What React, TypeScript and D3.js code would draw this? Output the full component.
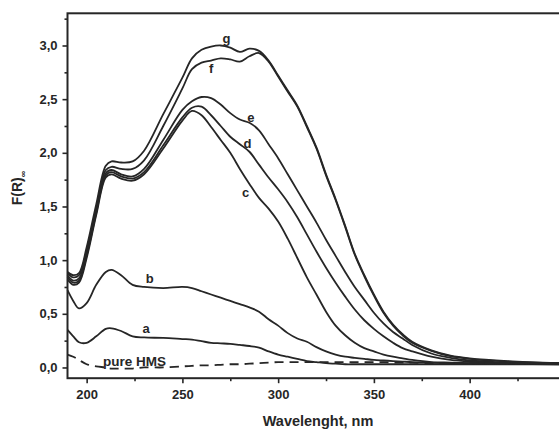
import * as d3 from "d3";
import { useEffect, useRef } from "react";

// wavelength grid (nm) shared by all spectra
const wavelengths = [190, 193, 196, 200, 205, 210, 213, 218, 224, 230, 240, 250, 255, 260, 265, 270, 275, 280, 285, 290, 295, 300, 305, 310, 315, 320, 325, 330, 335, 340, 345, 350, 355, 360, 365, 370, 380, 390, 400, 420, 450];

const seriesG = [0.89, 0.86, 0.88, 1.12, 1.52, 1.88, 1.92, 1.91, 1.92, 2.02, 2.36, 2.7, 2.88, 2.96, 2.99, 3.0, 2.98, 2.94, 2.97, 2.95, 2.86, 2.72, 2.58, 2.44, 2.25, 2.05, 1.8, 1.57, 1.32, 1.06, 0.86, 0.68, 0.52, 0.4, 0.31, 0.24, 0.16, 0.11, 0.085, 0.06, 0.04];
const seriesF = [0.88, 0.84, 0.86, 1.09, 1.48, 1.84, 1.87, 1.85, 1.85, 1.93, 2.25, 2.6, 2.78, 2.84, 2.86, 2.88, 2.87, 2.85, 2.9, 2.93, 2.85, 2.71, 2.57, 2.43, 2.24, 2.04, 1.79, 1.56, 1.31, 1.05, 0.85, 0.67, 0.51, 0.39, 0.3, 0.23, 0.155, 0.105, 0.08, 0.055, 0.038];
const seriesE = [0.86, 0.81, 0.83, 1.06, 1.46, 1.81, 1.84, 1.8, 1.78, 1.85, 2.12, 2.4, 2.48, 2.52, 2.51, 2.45, 2.37, 2.31, 2.28, 2.21, 2.08, 1.95, 1.8, 1.65, 1.5, 1.35, 1.19, 1.04, 0.89, 0.75, 0.63, 0.51, 0.41, 0.33, 0.27, 0.21, 0.13, 0.09, 0.065, 0.045, 0.035];
const seriesD = [0.84, 0.79, 0.81, 1.04, 1.44, 1.79, 1.82, 1.78, 1.76, 1.82, 2.07, 2.33, 2.42, 2.43, 2.35, 2.25, 2.15, 2.08, 2.01, 1.89, 1.77, 1.66, 1.54, 1.4, 1.24, 1.08, 0.93, 0.79, 0.66, 0.54, 0.44, 0.36, 0.29, 0.23, 0.18, 0.15, 0.1, 0.07, 0.055, 0.04, 0.03];
const seriesC = [0.82, 0.77, 0.79, 1.02, 1.42, 1.77, 1.8, 1.76, 1.74, 1.8, 2.04, 2.3, 2.39, 2.35, 2.24, 2.12, 2.0, 1.85, 1.71, 1.58, 1.48, 1.36, 1.2, 1.02, 0.84, 0.68, 0.52, 0.39, 0.3, 0.23, 0.18, 0.15, 0.12, 0.1, 0.085, 0.07, 0.05, 0.045, 0.04, 0.035, 0.03];
const seriesB = [0.72, 0.62, 0.55, 0.6, 0.77, 0.89, 0.91, 0.86, 0.77, 0.75, 0.74, 0.75, 0.74, 0.71, 0.68, 0.65, 0.62, 0.59, 0.56, 0.52, 0.45, 0.39, 0.32, 0.27, 0.24, 0.19, 0.15, 0.12, 0.1, 0.09, 0.08, 0.07, 0.065, 0.06, 0.055, 0.05, 0.045, 0.04, 0.04, 0.035, 0.03];
const seriesA = [0.35, 0.29, 0.235, 0.23, 0.29, 0.36, 0.365, 0.34, 0.29, 0.28, 0.275, 0.265, 0.26, 0.245, 0.23, 0.225, 0.22, 0.21, 0.2, 0.185, 0.15, 0.12, 0.1, 0.08, 0.06, 0.05, 0.04, 0.035, 0.03, 0.03, 0.03, 0.03, 0.03, 0.03, 0.03, 0.03, 0.03, 0.03, 0.03, 0.03, 0.025];
const seriesHMS = [0.12, 0.1, 0.07, 0.03, 0.01, 0.0, -0.01, -0.01, -0.01, 0.0, 0.0, 0.01, 0.015, 0.02, 0.02, 0.025, 0.03, 0.03, 0.035, 0.04, 0.045, 0.05, 0.05, 0.05, 0.05, 0.05, 0.05, 0.05, 0.05, 0.05, 0.05, 0.05, 0.05, 0.045, 0.045, 0.045, 0.04, 0.04, 0.04, 0.04, 0.04];

// curve labels: [text, wavelength, value]
const curveLabels: [string, number, number][] = [
  ["g", 273, 3.065],
  ["f", 265, 2.784],
  ["e", 285.8, 2.332],
  ["d", 284, 2.088],
  ["c", 283, 1.634],
  ["b", 233, 0.83],
  ["a", 231, 0.36],
  ["pure HMS", 225, 0.057],
];

const yTicks = [0, 0.5, 1, 1.5, 2, 2.5, 3];
const yMinor = [0.25, 0.75, 1.25, 1.75, 2.25, 2.75, 3.25];
const xTicks = [200, 250, 300, 350, 400];
const xMinor = [225, 275, 325, 375, 425];

const W = 559;
const H = 432;
const FONT = "'Liberation Sans', Arial, sans-serif";
const INK = "#262626";

function App() {
  const xAxisRef = useRef<SVGGElement>(null);
  const yAxisRef = useRef<SVGGElement>(null);

  const x = d3.scaleLinear().domain([190, 450]).range([67.5, 565.4]);
  const y = d3.scaleLinear().domain([-0.1, 3.3]).range([378.2, 13.3]);

  const line = d3
    .line<number>()
    .x((_, i) => x(wavelengths[i]))
    .y((v) => y(v))
    .curve(d3.curveCatmullRom.alpha(0.5));

  const solid = [seriesA, seriesB, seriesC, seriesD, seriesE, seriesF, seriesG];
  const fmt = (v: number) => d3.format(".1f")(v).replace(".", ",");

  useEffect(() => {
    const gx = d3.select(xAxisRef.current);
    gx.selectAll("*").remove();
    gx.append("g").call(d3.axisBottom(x).tickValues(xTicks).tickSize(5).tickSizeOuter(0).tickPadding(7));
    gx.append("g").call(d3.axisBottom(x).tickValues(xMinor).tickSize(3).tickSizeOuter(0).tickFormat(() => ""));

    const gy = d3.select(yAxisRef.current);
    gy.selectAll("*").remove();
    gy.append("g").call(d3.axisLeft(y).tickValues(yTicks).tickSize(5).tickSizeOuter(0).tickPadding(5).tickFormat((d) => fmt(+d)));
    gy.append("g").call(d3.axisLeft(y).tickValues(yMinor).tickSize(3).tickSizeOuter(0).tickFormat(() => ""));

    [gx, gy].forEach((g) => {
      g.selectAll(".domain").remove();
      g.selectAll("line").attr("stroke", INK).attr("stroke-width", 1.6);
      g.selectAll("text")
        .attr("fill", INK)
        .attr("font-family", FONT)
        .attr("font-weight", "bold")
        .attr("font-size", 13);
    });
  }, []);

  return (
    <svg width={W} height={H} style={{ position: "absolute", left: 0, top: 0, background: "#fff" }}>
      <rect x={0} y={0} width={W} height={H} fill="#fff" />
      {solid.map((s, i) => (
        <path key={i} d={line(s) ?? ""} fill="none" stroke={INK} strokeWidth={1.8} strokeLinejoin="round" />
      ))}
      <path d={line(seriesHMS) ?? ""} fill="none" stroke={INK} strokeWidth={1.8} strokeDasharray="9,6" />

      <rect x={x(190)} y={y(3.3)} width={x(450) - x(190)} height={y(-0.1) - y(3.3)} fill="none" stroke={INK} strokeWidth={2} />
      <g ref={xAxisRef} transform={`translate(0,${y(-0.1)})`} />
      <g ref={yAxisRef} transform={`translate(${x(190)},0)`} />

      {curveLabels.map(([t, wl, v]) => (
        <text
          key={t}
          x={x(wl)}
          y={y(v)}
          dy="0.35em"
          textAnchor="middle"
          fontFamily={FONT}
          fontWeight="bold"
          fontSize={t.length > 1 ? 13.5 : 13}
          fill={INK}
        >
          {t}
        </text>
      ))}

      <text x={318} y={426} textAnchor="middle" fontFamily={FONT} fontWeight="bold" fontSize={14.5} fill={INK}>
        Wavelenght, nm
      </text>
      <text
        transform="translate(22,188) rotate(-90)"
        textAnchor="middle"
        fontFamily={FONT}
        fontWeight="bold"
        fontSize={14}
        fill={INK}
      >
        F(R)<tspan fontSize={9} dy={4}>∞</tspan>
      </text>
    </svg>
  );
}

export default App;
